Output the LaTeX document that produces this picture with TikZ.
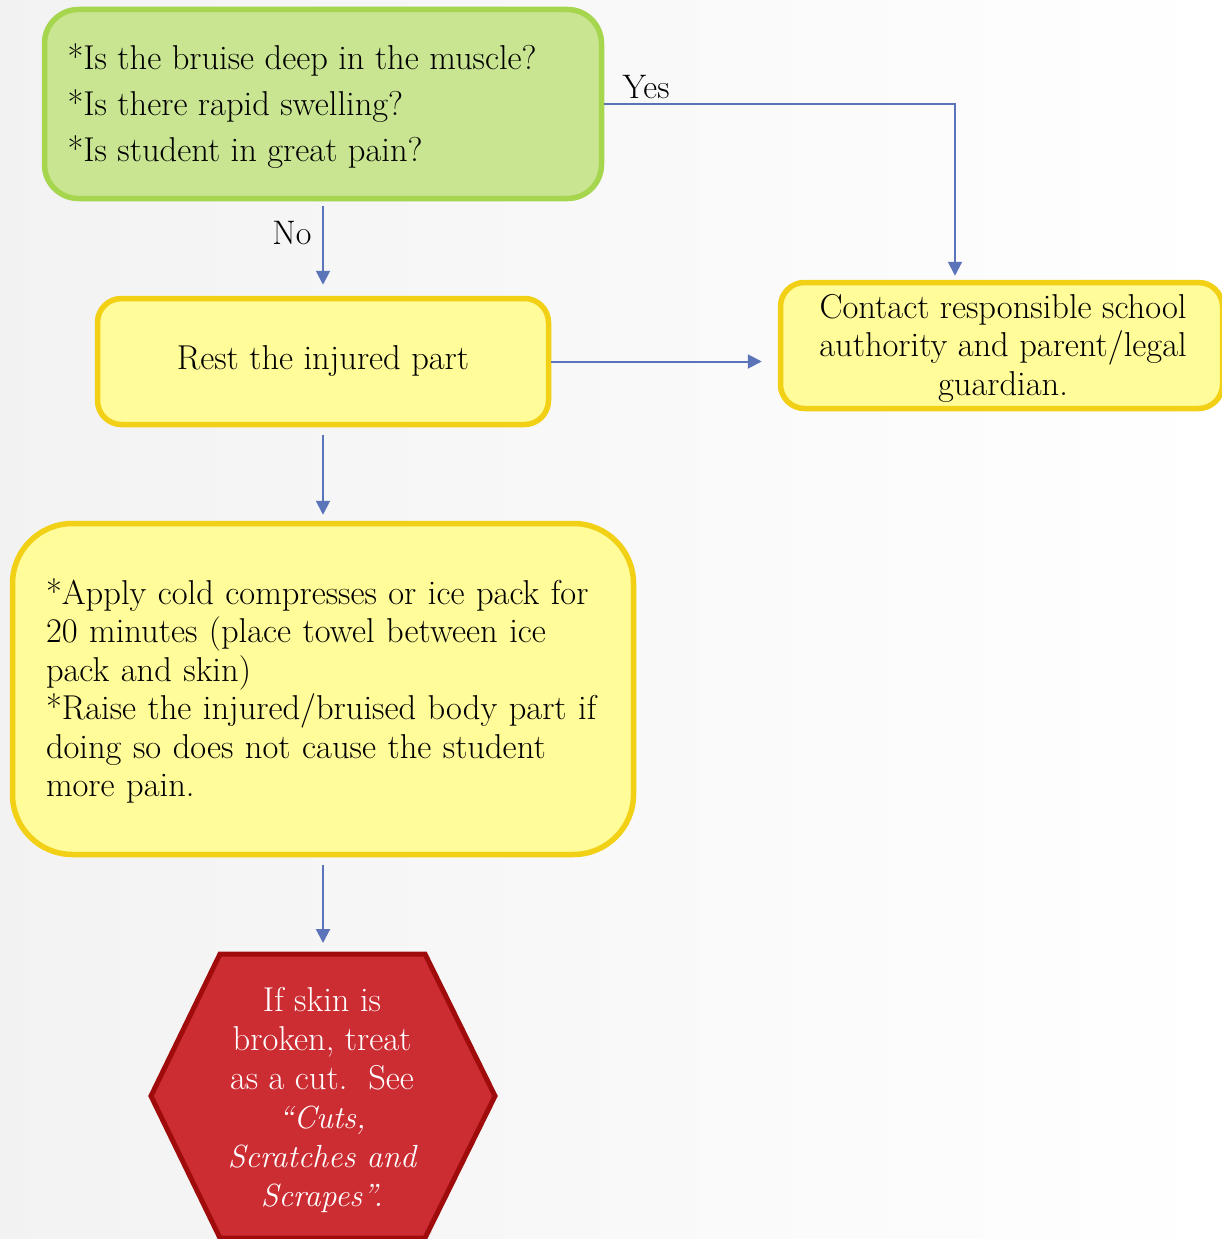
\documentclass[tikz,border=0pt]{standalone}
\usetikzlibrary{arrows.meta}
\definecolor{gfill}{HTML}{C9E592}
\definecolor{gdraw}{HTML}{A6D64E}
\definecolor{yfill}{HTML}{FFFC99}
\definecolor{ydraw}{HTML}{F2D016}
\definecolor{rfill}{HTML}{CC2D33}
\definecolor{rdraw}{HTML}{A00C0C}
\definecolor{arrblue}{HTML}{5B74B9}
\begin{document}
\begin{tikzpicture}[x=1pt,y=-1pt,
  boxbase/.style={rectangle, line width=5.5pt, inner sep=0pt},
  gbox/.style={boxbase, fill=gfill, draw=gdraw, rounded corners=34pt},
  ybox/.style={boxbase, fill=yfill, draw=ydraw, rounded corners=24pt},
  bigbox/.style={boxbase, fill=yfill, draw=ydraw, rounded corners=60pt},
  txt/.style={font=\fontsize{34.5}{38.5}\selectfont},
  arr/.style={draw=arrblue, line width=2pt, -{Triangle[length=14pt,width=14pt]}},
  lbl/.style={font=\fontsize{34}{36}\selectfont, inner sep=0pt}
]
\useasboundingbox (0,0) rectangle (1222,1239);
\clip (0,0) rectangle (1222,1239);
\shade[left color=black!5, right color=white] (0,0) rectangle (1222,1239);

% boxes
\node[gbox, minimum width=557pt, minimum height=189pt] (q) at (323,104) {};
\node[anchor=west, align=left, font=\fontsize{34.5}{46}\selectfont] (qt) at (64,106)
  {*Is the bruise deep in the muscle?\\{}*Is there rapid swelling?\\{}*Is student in great pain?};

\node[ybox, txt, minimum width=451pt, minimum height=126pt] (r) at (323,361.5) {Rest the injured part};

\node[ybox, minimum width=442pt, minimum height=126pt] (c) at (1001.5,345.5) {};
\node[txt, align=center] (ct) at (1003,348)
  {Contact responsible school\\authority and parent/legal\\guardian.};

\node[bigbox, minimum width=621pt, minimum height=331pt] (b) at (323,689) {};
\node[txt, align=left, text width=556pt] (bt) at (324,691)
  {*Apply cold compresses or ice pack for\\{}20 minutes (place towel between ice\\{}pack and skin)\\{}*Raise the injured/bruised body part if\\{}doing so does not cause the student\\{}more pain.};

% hexagon
\filldraw[fill=rfill, draw=rdraw, line width=5pt, line join=miter]
  (220,954) -- (425,954) -- (495,1096) -- (425,1238) -- (220,1238) -- (151,1096) -- cycle;
\coordinate (hextop) at (323,952);
\node[text=white, align=center, font=\fontsize{34.5}{39}\selectfont] (h) at (322,1100)
  {If skin is\\broken, treat\\as a cut.~~See\\{\fontsize{32}{39}\selectfont\itshape ``Cuts,}\\{\fontsize{32}{39}\selectfont\itshape Scratches and}\\{\fontsize{32}{39}\selectfont\itshape Scrapes''.}};

% connectors
\coordinate (yesturn) at (955,104);
\draw[arr, shorten >=4pt] (q.east) -- (yesturn) -- (yesturn |- c.north);
\node[lbl] (yes) at (646,87) {Yes};

\draw[arr, shorten <=5pt, shorten >=11pt] (q.south) -- (r.north);
\node[lbl] (no) at (292,233) {No};

\draw[arr, shorten >=16pt] (r.east) -- (r.east -| c.west);
\draw[arr, shorten <=8pt, shorten >=6pt] (r.south) -- (b.north);
\draw[arr, shorten <=8pt, shorten >=9pt] (b.south) -- (hextop);
\end{tikzpicture}
\end{document}
